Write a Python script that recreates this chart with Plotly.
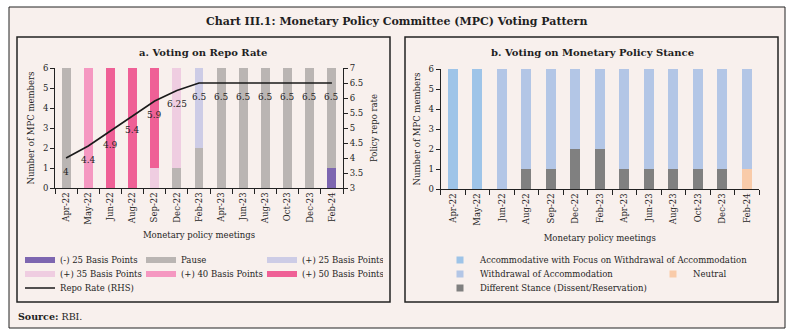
import plotly.graph_objects as go

W, H = 792, 336

months = ['Apr-22', 'May-22', 'Jun-22', 'Aug-22', 'Sep-22', 'Dec-22', 'Feb-23',
          'Apr-23', 'Jun-23', 'Aug-23', 'Oct-23', 'Dec-23', 'Feb-24']

# Panel a: votes on repo rate
cut25 = [0, 0, 0, 0, 0, 0, 0, 0, 0, 0, 0, 0, 1]
pause = [6, 0, 0, 0, 0, 1, 2, 6, 6, 6, 6, 6, 5]
hike25 = [0, 0, 0, 0, 0, 0, 4, 0, 0, 0, 0, 0, 0]
hike35 = [0, 0, 0, 0, 1, 5, 0, 0, 0, 0, 0, 0, 0]
hike40 = [0, 6, 0, 0, 0, 0, 0, 0, 0, 0, 0, 0, 0]
hike50 = [0, 0, 6, 6, 5, 0, 0, 0, 0, 0, 0, 0, 0]
repo_rate = [4.0, 4.4, 4.9, 5.4, 5.9, 6.25, 6.5, 6.5, 6.5, 6.5, 6.5, 6.5, 6.5]
repo_labels = ['4', '4.4', '4.9', '5.4', '5.9', '6.25', '6.5', '6.5', '6.5', '6.5', '6.5', '6.5', '6.5']

# Panel b: votes on stance
accom_focus = [6, 6, 0, 0, 0, 0, 0, 0, 0, 0, 0, 0, 0]
withdrawal = [0, 0, 6, 5, 5, 4, 4, 5, 5, 5, 5, 5, 5]
neutral = [0, 0, 0, 0, 0, 0, 0, 0, 0, 0, 0, 0, 1]
different = [0, 0, 0, 1, 1, 2, 2, 1, 1, 1, 1, 1, 0]

FONT = "DejaVu Serif"
TXT = "#1f1f1f"
BG = "#f8f0ed"

def px(x):
    return x / W

def py(y):
    return 1 - y / H

fig = go.Figure()

left_series = [
    ("(-) 25 Basis Points", cut25, "#7d66b0"),
    ("Pause", pause, "#bab5b3"),
    ("(+) 25 Basis Points", hike25, "#cdcce6"),
    ("(+) 35 Basis Points", hike35, "#efcde1"),
    ("(+) 40 Basis Points", hike40, "#f598c1"),
    ("(+) 50 Basis Points", hike50, "#ef6096"),
]
legend_of = {0: "legend", 1: "legend", 2: "legend", 3: "legend2", 4: "legend2", 5: "legend2"}
for i, (name, vals, col) in enumerate(left_series):
    fig.add_trace(go.Bar(x=months, y=vals, name=name, marker=dict(color=col, line=dict(width=0)),
                         width=0.4, xaxis="x", yaxis="y", showlegend=False))
for i, (name, vals, col) in enumerate(left_series):
    fig.add_trace(go.Scatter(x=[None], y=[None], name=name, mode="lines",
                             line=dict(color=col, width=6), xaxis="x", yaxis="y",
                             legend=legend_of[i], legendrank=i + 1, showlegend=True))

fig.add_trace(go.Scatter(x=months, y=repo_rate, name="Repo Rate (RHS)", mode="lines",
                         line=dict(color="#1a1a1a", width=1.6), xaxis="x", yaxis="y2",
                         legend="legend3"))

for m, r, lab in zip(months, repo_rate, repo_labels):
    fig.add_annotation(x=m, y=r, xref="x", yref="y2", text=lab, showarrow=False,
                       xanchor="center", yanchor="middle",
                       yshift=-14, font=dict(family=FONT, size=9, color=TXT))

right_series = [
    ("Different Stance (Dissent/Reservation)", different, "#808080", "legend6", 4),
    ("Neutral", neutral, "#f9cba9", "legend5", 3),
    ("Withdrawal of Accommodation", withdrawal, "#b3c6e6", "legend5", 2),
    ("Accommodative with Focus on Withdrawal of Accommodation", accom_focus, "#9ec4e8", "legend4", 1),
]
for name, vals, col, lg, rank in right_series:
    fig.add_trace(go.Bar(x=months, y=vals, name=name, marker=dict(color=col, line=dict(width=0)),
                         width=0.4, xaxis="x2", yaxis="y3", showlegend=False))
for name, vals, col, lg, rank in right_series:
    fig.add_trace(go.Scatter(x=[None], y=[None], name=name, mode="markers",
                             marker=dict(color=col, symbol="square", size=7),
                             xaxis="x2", yaxis="y3", legend=lg, legendrank=rank, showlegend=True))

tickfont = dict(family=FONT, size=8.5, color=TXT)
titlefont = dict(family=FONT, size=8.5, color=TXT)
axcommon = dict(showgrid=False, zeroline=False, showline=True, linecolor="#222", linewidth=1,
                ticks="outside", tickcolor="#222", tickfont=tickfont, automargin=False)

ydom = [py(188), py(68)]
fig.update_layout(
    width=W, height=H, autosize=False,
    margin=dict(l=0, r=0, t=0, b=0, autoexpand=False),
    paper_bgcolor="white", plot_bgcolor="rgba(0,0,0,0)",
    barmode="stack", bargap=0.6,
    font=dict(family=FONT, color=TXT),
    xaxis=dict(domain=[px(55), px(343)], anchor="y", tickangle=-90, tickson="boundaries",
               ticklen=5, title=dict(text="Monetary policy meetings", font=titlefont, standoff=8),
               **axcommon),
    yaxis=dict(domain=ydom, anchor="x", range=[0, 6], dtick=1, ticklen=4,
               title=dict(text="Number of MPC members", font=titlefont, standoff=6), **axcommon),
    yaxis2=dict(domain=ydom, anchor="x", overlaying="y", side="right", range=[3, 7], dtick=0.5,
                ticklen=4,
                title=dict(text="Policy repo rate", font=titlefont, standoff=8), **axcommon),
    xaxis2=dict(domain=[px(440.5), px(759)], anchor="y3", tickangle=-90, tickson="boundaries",
                ticklen=5, title=dict(text="Monetary policy meetings", font=titlefont, standoff=10),
                **axcommon),
    yaxis3=dict(domain=[py(189), py(69)], anchor="x2", range=[0, 6], dtick=1, ticklen=4,
                title=dict(text="Number of MPC members", font=titlefont, standoff=6), **axcommon),
)

legfont = dict(family=FONT, size=8.5, color=TXT)
def leg(x, y, ew=None):
    d = dict(orientation="h", x=x, y=y, xanchor="left", yanchor="middle",
             bgcolor="rgba(0,0,0,0)", borderwidth=0, font=legfont, traceorder="normal",
             tracegroupgap=0, itemclick=False)
    if ew:
        d.update(entrywidth=ew, entrywidthmode="pixels")
    return d

fig.update_layout(
    legend=leg(px(20), py(260), 76),
    legend2=leg(px(20), py(274), 76),
    legend3=leg(px(20), py(288), 76),
    legend4=leg(px(440), py(260)),
    legend5=leg(px(440), py(274), 168),
    legend6=leg(px(440), py(288)),
)

shapes = [
    dict(type="rect", xref="paper", yref="paper", x0=px(9), x1=px(785), y0=py(328), y1=py(7),
         line=dict(color="#222", width=1), fillcolor=BG, layer="below"),
    dict(type="rect", xref="paper", yref="paper", x0=px(17), x1=px(390), y0=py(302), y1=py(37),
         line=dict(color="#222", width=1.5), fillcolor="rgba(0,0,0,0)", layer="below"),
    dict(type="rect", xref="paper", yref="paper", x0=px(405), x1=px(778), y0=py(302), y1=py(37),
         line=dict(color="#222", width=1.5), fillcolor="rgba(0,0,0,0)", layer="below"),
]
fig.update_layout(shapes=shapes)

def note(x, y, text, size, xanchor="center"):
    fig.add_annotation(xref="paper", yref="paper", x=x, y=y, showarrow=False, text=text,
                       xanchor=xanchor, yanchor="middle",
                       font=dict(family=FONT, size=size, color=TXT))

note(0.5, py(22), "<b>Chart III.1: Monetary Policy Committee (MPC) Voting Pattern</b>", 11)
note(px(203), py(52), "<b>a. Voting on Repo Rate</b>", 10)
note(px(592), py(52), "<b>b. Voting on Monetary Policy Stance</b>", 10)
note(px(16), py(316), "<b>Source:</b> RBI.", 9.5, xanchor="left")

fig.write_html("out.html")
